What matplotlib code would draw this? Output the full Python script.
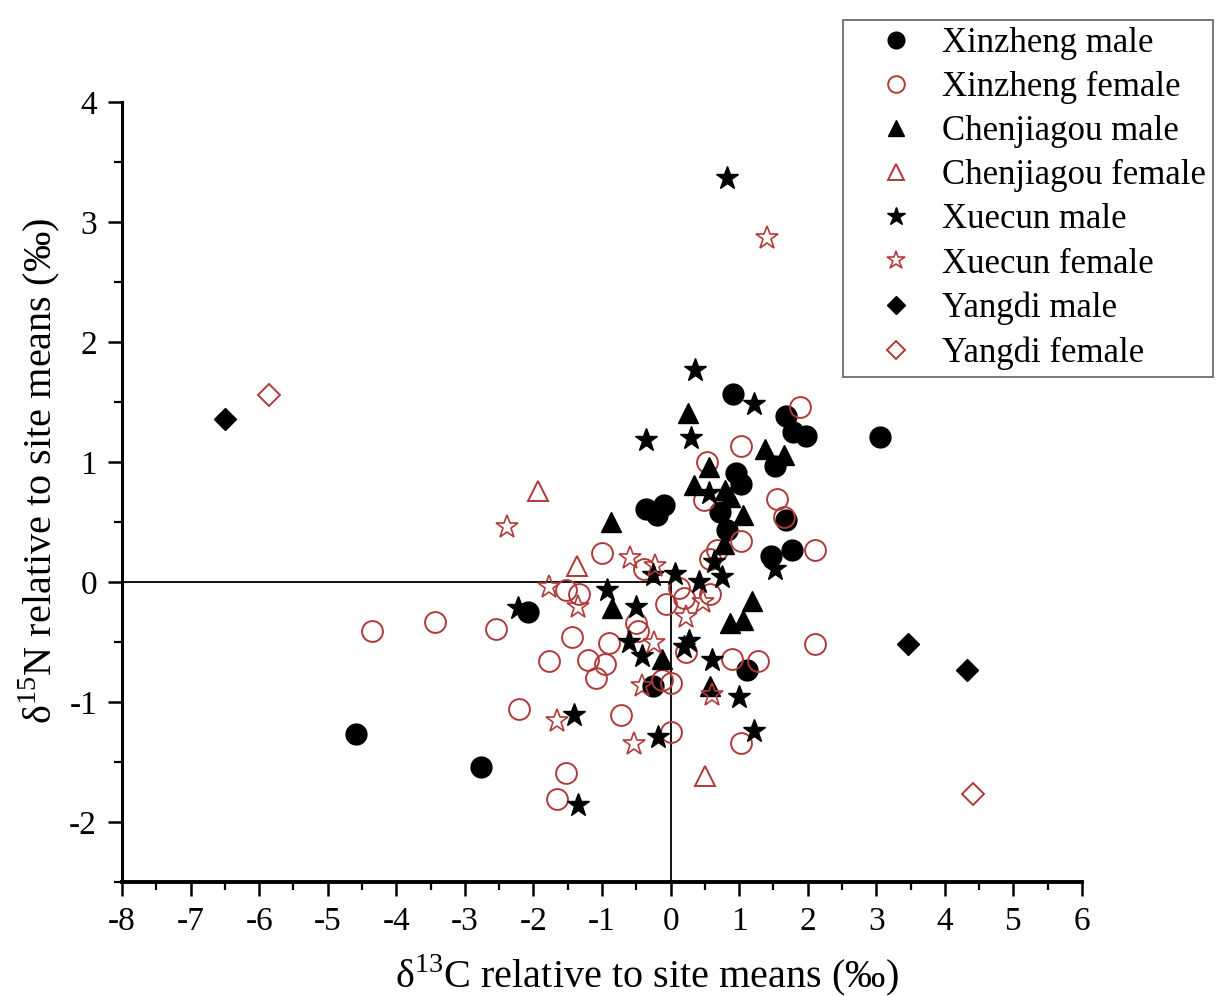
"""Scatter of d13C vs d15N relative to site means, by site and sex"""

import matplotlib
matplotlib.use('Agg')
import matplotlib.pyplot as plt
from matplotlib.ticker import MultipleLocator

plt.rcParams['font.family'] = ['Liberation Serif', 'DejaVu Serif']
plt.rcParams['mathtext.fontset'] = 'custom'
plt.rcParams['mathtext.rm'] = 'Liberation Serif'
plt.rcParams['axes.unicode_minus'] = False

RED = '#b03a3a'

# values (x = d13C, y = d15N)
xinzheng_male_x = [-4.59, -2.76, -2.08, -0.36, -0.20, -0.10, 0.91, 1.69, 1.79, 1.98, 1.52,
                   0.96, 1.02, 0.72, 0.82, 1.68, 1.47, 1.77, 3.06, 1.12, -0.25]
xinzheng_male_y = [-1.27, -1.54, -0.25, 0.61, 0.56, 0.64, 1.57, 1.38, 1.25, 1.22, 0.97,
                   0.91, 0.82, 0.58, 0.43, 0.52, 0.22, 0.27, 1.21, -0.73, -0.87]

xinzheng_female_x = [-4.36, -3.44, -2.55, -1.52, -1.34, -1.44, -1.77, -2.21, -1.53, -1.66,
                     -1.21, -0.95, -1.09, -0.90, -0.73, -0.51, -0.47, -0.06, -0.12, 0.00,
                     0.00, 0.12, 0.22, 0.19, -1.00, -0.39, 0.53, 0.49, 0.57, 1.89,
                     1.02, 1.55, 1.65, 1.02, 2.11, 0.68, 0.58, 2.11, 0.90, 1.27, 1.02]
xinzheng_female_y = [-0.41, -0.33, -0.39, -0.07, -0.10, -0.46, -0.66, -1.06, -1.59, -1.81,
                     -0.65, -0.68, -0.80, -0.51, -1.11, -0.34, -0.41, -0.18, -0.82, -0.84,
                     -1.25, -0.05, -0.58, -0.13, 0.24, 0.11, 1.00, 0.68, 0.19, 1.46,
                     1.13, 0.69, 0.54, 0.34, 0.27, 0.27, -0.10, -0.52, -0.64, -0.66, -1.34]

chenjiagou_male_x = [0.25, 0.56, 0.34, -0.87, 1.38, 1.66, 0.80, 0.86, 1.05, 0.78,
                     1.19, 0.87, 1.05, 0.58, -0.85, -0.12]
chenjiagou_male_y = [1.41, 0.96, 0.81, 0.50, 1.11, 1.06, 0.77, 0.71, 0.56, 0.32,
                     -0.16, -0.34, -0.32, -0.87, -0.22, -0.64]

chenjiagou_female_x = [-1.93, -1.37, 0.50]
chenjiagou_female_y = [0.76, 0.13, -1.62]

xuecun_male_x = [0.82, 0.35, -0.36, 0.30, 1.22, 0.56, 1.53, 0.63, 0.75, 0.42, 0.06, -0.92,
                 -0.26, -2.23, -0.50, -0.61, -0.41, 0.20, 0.27, 0.61, -1.41, -0.19, -1.35,
                 1.00, 1.21]
xuecun_male_y = [3.37, 1.77, 1.18, 1.20, 1.48, 0.74, 0.11, 0.17, 0.04, 0.00, 0.07, -0.07,
                 0.06, -0.22, -0.21, -0.50, -0.62, -0.54, -0.49, -0.65, -1.11, -1.29, -1.86,
                 -0.96, -1.24]

xuecun_female_x = [1.40, -2.39, -1.77, -1.35, -1.66, -0.59, -0.22, -0.54, -0.24, -0.41,
                   0.22, 0.47, 0.61]
xuecun_female_y = [2.87, 0.46, -0.04, -0.21, -1.16, 0.20, 0.13, -1.35, -0.51, -0.87,
                   -0.29, -0.17, -0.94]

yangdi_male_x = [-6.50, 3.46, 4.32]
yangdi_male_y = [1.36, -0.52, -0.73]

yangdi_female_x = [-5.86, 4.41]
yangdi_female_y = [1.56, -1.77]

fig = plt.figure(figsize=(12.19, 9.96), dpi=100)
ax = fig.add_axes([0.1001, 0.1145, 0.7875, 0.7831])

# reference lines to the site means
ax.plot([-8, 0], [0, 0], color='black', lw=1.3, zorder=1)
ax.plot([0, 0], [-2.5, 0], color='black', lw=1.3, zorder=1)

ax.plot(xinzheng_male_x, xinzheng_male_y, 'o', ms=15, color='black', ls='none',
        label='Xinzheng male')
ax.plot(xinzheng_female_x, xinzheng_female_y, 'o', ms=15, mfc='none', mec=RED, mew=1.4,
        ls='none', label='Xinzheng female')
ax.plot(chenjiagou_male_x, chenjiagou_male_y, '^', ms=15, color='black', ls='none',
        label='Chenjiagou male')
ax.plot(chenjiagou_female_x, chenjiagou_female_y, '^', ms=15, mfc='none', mec=RED, mew=1.4,
        ls='none', label='Chenjiagou female')
ax.plot(xuecun_male_x, xuecun_male_y, '*', ms=17, color='black', ls='none',
        label='Xuecun male')
ax.plot(xuecun_female_x, xuecun_female_y, '*', ms=17, mfc='none', mec=RED, mew=1.2,
        ls='none', label='Xuecun female')
ax.plot(yangdi_male_x, yangdi_male_y, 'D', ms=11, color='black', ls='none',
        label='Yangdi male')
ax.plot(yangdi_female_x, yangdi_female_y, 'D', ms=11, mfc='none', mec=RED, mew=1.4,
        ls='none', label='Yangdi female')

ax.set_xlim(-8, 6)
ax.set_ylim(-2.5, 4)
ax.xaxis.set_major_locator(MultipleLocator(1))
ax.xaxis.set_minor_locator(MultipleLocator(0.5))
ax.yaxis.set_major_locator(MultipleLocator(1))
ax.yaxis.set_minor_locator(MultipleLocator(0.5))

for side in ['top', 'right']:
    ax.spines[side].set_visible(False)
ax.spines['left'].set_linewidth(2.2)
ax.spines['bottom'].set_linewidth(2.8)

ax.tick_params(which='major', direction='out', length=10, width=1.8, labelsize=24, pad=8)
ax.tick_params(which='minor', direction='out', length=6, width=1.6)

ax.set_xlabel(r'δ$^{13}$C relative to site means (‰)', fontsize=29)
ax.set_ylabel(r'δ$^{15}$N relative to site means (‰)', fontsize=29)
ax.xaxis.set_label_coords(0.547, -0.09)
ax.yaxis.set_label_coords(-0.063, 0.527)

leg = fig.legend(loc='upper left', bbox_to_anchor=(0.6916, 0.98), borderaxespad=0,
                 fontsize=25, markerscale=0.8, frameon=True, fancybox=False,
                 edgecolor='#555555', borderpad=0.2, labelspacing=0.32,
                 handletextpad=0.0, handlelength=2.65)
leg.get_frame().set_linewidth(1.4)

fig.savefig('out.png', dpi=100)
